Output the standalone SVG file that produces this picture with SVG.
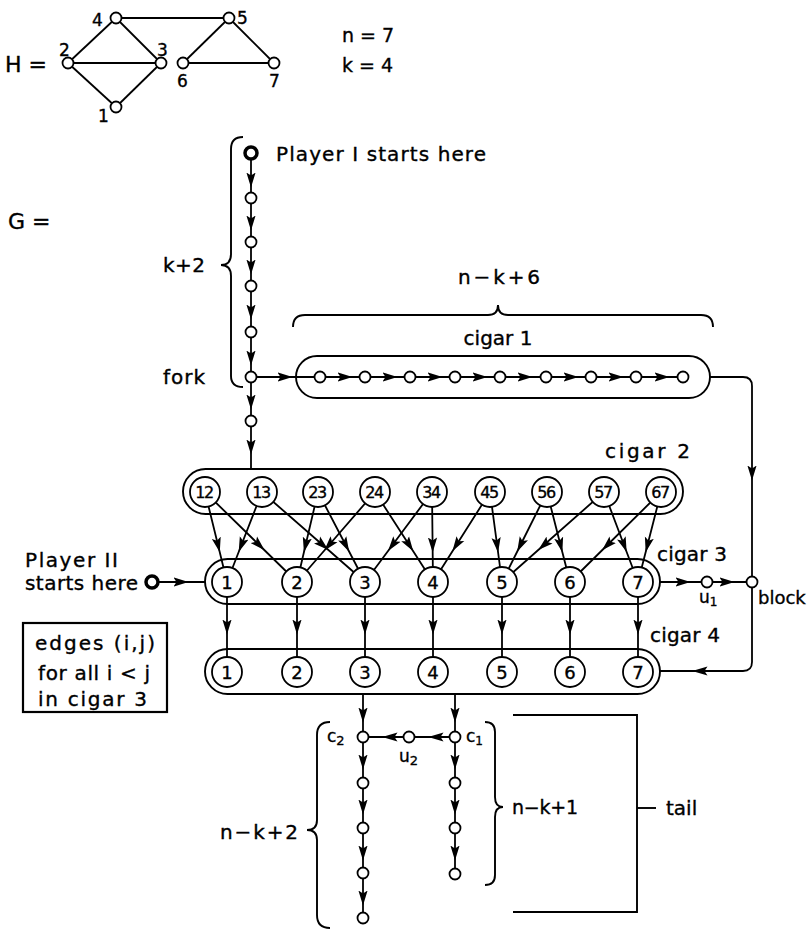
<svg xmlns="http://www.w3.org/2000/svg" width="810" height="940" viewBox="0 0 810 940">
<defs>
<marker id="a" viewBox="0 0 15 10" refX="7.5" refY="5" markerWidth="15" markerHeight="10" markerUnits="userSpaceOnUse" orient="auto"><path d="M0,0.4 L15,5 L0,9.6 L3,5 z" fill="#000"/></marker>
</defs>
<style>
.e{fill:none;stroke:#000;stroke-width:1.8;marker-mid:url(#a)}
.l{fill:none;stroke:#000;stroke-width:1.8}
.n{fill:#fff;stroke:#000;stroke-width:1.8}
.b{fill:#fff;stroke:#000;stroke-width:3.5}
.c{fill:none;stroke:#000;stroke-width:1.9}
text{font-family:"DejaVu Sans","Liberation Sans",sans-serif;fill:#000;stroke:#000;stroke-width:0.35}
.t{font-size:19px}
.s{font-size:17px}
.nl{font-size:18px;text-anchor:middle}
.dl{font-size:16px;text-anchor:middle;letter-spacing:-1.5px}
</style>
<rect width="810" height="940" fill="#fff"/>

<g id="H">
  <text x="5" y="72" font-size="22">H =</text>
  <g class="l">
    <line x1="116" y1="18" x2="229" y2="18"/>
    <line x1="116" y1="18" x2="68" y2="63"/>
    <line x1="116" y1="18" x2="161" y2="63"/>
    <line x1="68" y1="63" x2="161" y2="63"/>
    <line x1="68" y1="63" x2="116" y2="107"/>
    <line x1="161" y1="63" x2="116" y2="107"/>
    <line x1="229" y1="18" x2="183" y2="63"/>
    <line x1="229" y1="18" x2="274" y2="63"/>
    <line x1="183" y1="63" x2="274" y2="63"/>
  </g>
  <g id="h4"><circle class="n" cx="116" cy="18" r="5.5"/><text class="s" x="92" y="26">4</text></g>
  <g id="h5"><circle class="n" cx="229" cy="18" r="5.5"/><text class="s" x="237" y="24">5</text></g>
  <g id="h2"><circle class="n" cx="68" cy="63" r="5.5"/><text class="s" x="59" y="56">2</text></g>
  <g id="h3"><circle class="n" cx="161" cy="63" r="5.5"/><text class="s" x="157" y="56">3</text></g>
  <g id="h6"><circle class="n" cx="183" cy="63" r="5.5"/><text class="s" x="177" y="87">6</text></g>
  <g id="h7"><circle class="n" cx="274" cy="63" r="5.5"/><text class="s" x="269" y="87">7</text></g>
  <g id="h1"><circle class="n" cx="116" cy="107" r="5.5"/><text class="s" x="98" y="122">1</text></g>
</g>
<text class="t" x="342" y="42">n = 7</text>
<text class="t" x="342" y="72">k = 4</text>
<text x="8" y="229" font-size="22">G =</text>

<g id="braces" class="c">
  <path d="M243,137 Q231,137 231,149 L231,254 Q231,265 221,265 Q231,265 231,276 L231,376 Q231,387 243,387"/>
  <path d="M293,327 Q293,315 305,315 L488,315 Q498,315 498,305 Q498,315 508,315 L701,315 Q713,315 713,327"/>
  <path d="M330,722 Q317,722 317,735 L317,820 Q317,830 307,830 Q317,830 317,840 L317,915 Q317,928 330,928"/>
  <path d="M485,722 Q495,722 495,732 L495,797 Q495,807 503,807 Q495,807 495,817 L495,875 Q495,885 485,885"/>
  <path d="M513,715 L637,715 L637,912 L513,912"/>
  <path d="M637,808 L656,808"/>
</g>

<g id="cigars" class="c">
  <rect id="cigar1" x="296" y="356" width="414" height="42" rx="21"/>
  <rect id="cigar2" x="183" y="469" width="500" height="45" rx="22.5"/>
  <rect id="cigar3" x="205" y="559" width="455" height="45" rx="22.5"/>
  <rect id="cigar4" x="205" y="649" width="455" height="45" rx="22.5"/>
</g>

<g id="connectors">
  <path class="e" d="M251,153 L251,180 L251,198"/>
  <path class="e" d="M251,198 L251,223 L251,242"/>
  <path class="e" d="M251,242 L251,267 L251,286"/>
  <path class="e" d="M251,286 L251,312 L251,332"/>
  <path class="e" d="M251,332 L251,358 L251,377"/>
  <path class="e" d="M251,377 L251,402 L251,421"/>
  <path class="e" d="M251,421 L251,447 L251,469"/>
  <path class="e" d="M251,377 L285,377 L320,377"/>
  <path class="e" d="M320,377 L345,377 L365,377"/>
  <path class="e" d="M365,377 L390,377 L410,377"/>
  <path class="e" d="M410,377 L435,377 L455,377"/>
  <path class="e" d="M455,377 L480,377 L500,377"/>
  <path class="e" d="M500,377 L525,377 L546,377"/>
  <path class="e" d="M546,377 L571,377 L591,377"/>
  <path class="e" d="M591,377 L616,377 L636,377"/>
  <path class="e" d="M636,377 L662,377 L683,377"/>
  <path class="l" d="M710,377 L743,377 Q752,377 752,386 L752,450"/>
  <path class="e" d="M752,450 L752,473 L752,582"/>
  <path class="e" d="M205,492 L218,545 L227,582"/>
  <path class="e" d="M205,492 L259.2,545 L297,582"/>
  <path class="e" d="M262,492 L241.4,545 L227,582"/>
  <path class="e" d="M262,492 L322.7,545 L365,582"/>
  <path class="e" d="M318,492 L305.6,545 L297,582"/>
  <path class="e" d="M318,492 L345.7,545 L365,582"/>
  <path class="e" d="M375,492 L329.1,545 L297,582"/>
  <path class="e" d="M375,492 L409.2,545 L433,582"/>
  <path class="e" d="M432,492 L392.5,545 L365,582"/>
  <path class="e" d="M432,492 L432.6,545 L433,582"/>
  <path class="e" d="M490,492 L456.4,545 L433,582"/>
  <path class="e" d="M490,492 L497.1,545 L502,582"/>
  <path class="e" d="M547,492 L520.5,545 L502,582"/>
  <path class="e" d="M547,492 L560.5,545 L570,582"/>
  <path class="e" d="M604,492 L543.9,545 L502,582"/>
  <path class="e" d="M604,492 L624,545 L638,582"/>
  <path class="e" d="M661,492 L607.4,545 L570,582"/>
  <path class="e" d="M661,492 L647.5,545 L638,582"/>
  <path class="e" d="M152,582 L181,582 L205,582"/>
  <path class="e" d="M227,582 L227,627 L227,672"/>
  <path class="e" d="M297,582 L297,627 L297,672"/>
  <path class="e" d="M365,582 L365,627 L365,672"/>
  <path class="e" d="M433,582 L433,627 L433,672"/>
  <path class="e" d="M502,582 L502,627 L502,672"/>
  <path class="e" d="M570,582 L570,627 L570,672"/>
  <path class="e" d="M638,582 L638,627 L638,672"/>
  <path class="e" d="M660,582 L683,582 L707,582"/>
  <path class="e" d="M707,582 L727,582 L752,582"/>
  <path class="l" d="M752,582 L752,662 Q752,671 743,671 L720,671"/>
  <path class="e" d="M720,671 L700,671 L660,671"/>
  <path class="e" d="M363,694 L363,715 L363,737"/>
  <path class="e" d="M455,694 L455,715 L455,737"/>
  <path class="e" d="M455,737 L436,737 L409,737"/>
  <path class="e" d="M409,737 L390,737 L363,737"/>
  <path class="e" d="M363,737 L363,762 L363,783"/>
  <path class="e" d="M363,783 L363,807 L363,828"/>
  <path class="e" d="M363,828 L363,853 L363,873"/>
  <path class="e" d="M363,873 L363,898 L363,918"/>
  <path class="e" d="M455,737 L455,762 L455,783"/>
  <path class="e" d="M455,783 L455,807 L455,828"/>
  <path class="e" d="M455,828 L455,853 L455,874"/>
</g>

<g id="chain">
  <g id="start1"><circle class="b" cx="251" cy="153" r="6"/></g>
  <g id="v1"><circle class="n" cx="251" cy="198" r="5.5"/></g>
  <g id="v2"><circle class="n" cx="251" cy="242" r="5.5"/></g>
  <g id="v3"><circle class="n" cx="251" cy="286" r="5.5"/></g>
  <g id="v4"><circle class="n" cx="251" cy="332" r="5.5"/></g>
  <g id="fork"><circle class="n" cx="251" cy="377" r="5.5"/></g>
  <g id="v6"><circle class="n" cx="251" cy="421" r="5.5"/></g>
</g>
<g id="cigar1-nodes">
  <g id="a1"><circle class="n" cx="320" cy="377" r="5.5"/></g>
  <g id="a2"><circle class="n" cx="365" cy="377" r="5.5"/></g>
  <g id="a3"><circle class="n" cx="410" cy="377" r="5.5"/></g>
  <g id="a4"><circle class="n" cx="455" cy="377" r="5.5"/></g>
  <g id="a5"><circle class="n" cx="500" cy="377" r="5.5"/></g>
  <g id="a6"><circle class="n" cx="546" cy="377" r="5.5"/></g>
  <g id="a7"><circle class="n" cx="591" cy="377" r="5.5"/></g>
  <g id="a8"><circle class="n" cx="636" cy="377" r="5.5"/></g>
  <g id="a9"><circle class="n" cx="683" cy="377" r="5.5"/></g>
</g>
<g id="cigar2-nodes">
  <g id="e12"><circle class="n" cx="205" cy="492" r="15"/><text class="dl" x="204" y="498">12</text></g>
  <g id="e13"><circle class="n" cx="262" cy="492" r="15"/><text class="dl" x="261" y="498">13</text></g>
  <g id="e23"><circle class="n" cx="318" cy="492" r="15"/><text class="dl" x="317" y="498">23</text></g>
  <g id="e24"><circle class="n" cx="375" cy="492" r="15"/><text class="dl" x="374" y="498">24</text></g>
  <g id="e34"><circle class="n" cx="432" cy="492" r="15"/><text class="dl" x="431" y="498">34</text></g>
  <g id="e45"><circle class="n" cx="490" cy="492" r="15"/><text class="dl" x="489" y="498">45</text></g>
  <g id="e56"><circle class="n" cx="547" cy="492" r="15"/><text class="dl" x="546" y="498">56</text></g>
  <g id="e57"><circle class="n" cx="604" cy="492" r="15"/><text class="dl" x="603" y="498">57</text></g>
  <g id="e67"><circle class="n" cx="661" cy="492" r="15"/><text class="dl" x="660" y="498">67</text></g>
</g>
<g id="cigar3-nodes">
  <g id="p1"><circle class="n" cx="227" cy="582" r="15"/><text class="nl" x="227" y="588.5">1</text></g>
  <g id="p2"><circle class="n" cx="297" cy="582" r="15"/><text class="nl" x="297" y="588.5">2</text></g>
  <g id="p3"><circle class="n" cx="365" cy="582" r="15"/><text class="nl" x="365" y="588.5">3</text></g>
  <g id="p4"><circle class="n" cx="433" cy="582" r="15"/><text class="nl" x="433" y="588.5">4</text></g>
  <g id="p5"><circle class="n" cx="502" cy="582" r="15"/><text class="nl" x="502" y="588.5">5</text></g>
  <g id="p6"><circle class="n" cx="570" cy="582" r="15"/><text class="nl" x="570" y="588.5">6</text></g>
  <g id="p7"><circle class="n" cx="638" cy="582" r="15"/><text class="nl" x="638" y="588.5">7</text></g>
</g>
<g id="cigar4-nodes">
  <g id="q1"><circle class="n" cx="227" cy="672" r="15"/><text class="nl" x="227" y="678.5">1</text></g>
  <g id="q2"><circle class="n" cx="297" cy="672" r="15"/><text class="nl" x="297" y="678.5">2</text></g>
  <g id="q3"><circle class="n" cx="365" cy="672" r="15"/><text class="nl" x="365" y="678.5">3</text></g>
  <g id="q4"><circle class="n" cx="433" cy="672" r="15"/><text class="nl" x="433" y="678.5">4</text></g>
  <g id="q5"><circle class="n" cx="502" cy="672" r="15"/><text class="nl" x="502" y="678.5">5</text></g>
  <g id="q6"><circle class="n" cx="570" cy="672" r="15"/><text class="nl" x="570" y="678.5">6</text></g>
  <g id="q7"><circle class="n" cx="638" cy="672" r="15"/><text class="nl" x="638" y="678.5">7</text></g>
</g>
<g id="start2"><circle class="b" cx="152" cy="582" r="6"/></g>
<g id="u1"><circle class="n" cx="707" cy="582" r="5.5"/><text class="s" x="699" y="603">u<tspan font-size="12" dy="3">1</tspan></text></g>
<g id="block"><circle class="n" cx="752" cy="582" r="5.5"/><text x="758" y="604" font-size="18">block</text></g>
<g id="tail-nodes">
  <g id="c2"><circle class="n" cx="363" cy="737" r="5.5"/><text class="s" x="327" y="742">c<tspan font-size="13" dy="3">2</tspan></text></g>
  <g id="u2"><circle class="n" cx="409" cy="737" r="5.5"/><text class="s" x="399" y="762">u<tspan font-size="13" dy="3">2</tspan></text></g>
  <g id="c1"><circle class="n" cx="455" cy="737" r="5.5"/><text class="s" x="466" y="742">c<tspan font-size="12" dy="3">1</tspan></text></g>
  <g id="t1"><circle class="n" cx="363" cy="783" r="5.5"/></g>
  <g id="t2"><circle class="n" cx="363" cy="828" r="5.5"/></g>
  <g id="t3"><circle class="n" cx="363" cy="873" r="5.5"/></g>
  <g id="t4"><circle class="n" cx="363" cy="918" r="5.5"/></g>
  <g id="s1"><circle class="n" cx="455" cy="783" r="5.5"/></g>
  <g id="s2"><circle class="n" cx="455" cy="828" r="5.5"/></g>
  <g id="s3"><circle class="n" cx="455" cy="874" r="5.5"/></g>
</g>

<g id="labels" class="t">
  <text x="276" y="161" font-size="20" textLength="210" lengthAdjust="spacing">Player I starts here</text>
  <text x="163" y="272" font-size="20" textLength="42" lengthAdjust="spacing">k+2</text>
  <text x="163" y="384" font-size="20" textLength="42" lengthAdjust="spacing">fork</text>
  <text x="458" y="284" font-size="20" textLength="82" lengthAdjust="spacing">n − k + 6</text>
  <text x="498" y="345" text-anchor="middle" font-size="20">cigar 1</text>
  <text x="605" y="458" font-size="20" textLength="85" lengthAdjust="spacing">cigar  2</text>
  <text x="657" y="561" font-size="20" textLength="70" lengthAdjust="spacing">cigar 3</text>
  <text x="650" y="642" font-size="20" textLength="70" lengthAdjust="spacing">cigar 4</text>
  <text x="25" y="567" font-size="20" textLength="93" lengthAdjust="spacing">Player II</text>
  <text x="25" y="590" font-size="20" textLength="113" lengthAdjust="spacing">starts here</text>
  <text x="220" y="839" font-size="20" textLength="78" lengthAdjust="spacing">n − k + 2</text>
  <text x="512" y="814" font-size="19" textLength="66" lengthAdjust="spacing">n − k + 1</text>
  <text x="666" y="815" font-size="20">tail</text>
</g>
<g id="note">
  <rect x="23" y="623" width="144" height="89" fill="none" stroke="#000" stroke-width="2.2"/>
  <text x="35" y="650" font-size="20" textLength="120" lengthAdjust="spacing">edges (i,j)</text>
  <text x="38" y="680" font-size="20" textLength="112" lengthAdjust="spacing">for all i &lt; j</text>
  <text x="38" y="706" font-size="20" textLength="109" lengthAdjust="spacing">in cigar 3</text>
</g>
</svg>
